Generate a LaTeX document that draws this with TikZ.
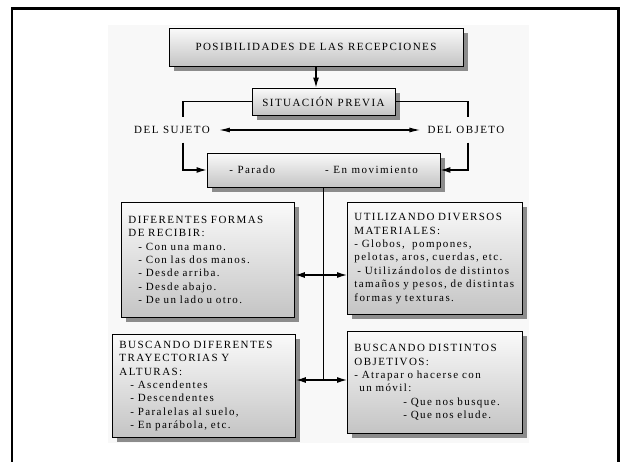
\documentclass[tikz,border=0pt]{standalone}
\usepackage{fontspec}
\setmainfont{Liberation Serif}[LetterSpace=13,WordSpace=1.6]
\usetikzlibrary{positioning,arrows.meta,shadows}
\definecolor{PanelGray}{RGB}{248,248,248}
\definecolor{ShadowGray}{RGB}{140,140,140}
\definecolor{BoxTop}{RGB}{250,250,250}
\definecolor{BoxBottom}{RGB}{196,196,196}
\newcommand{\cajafont}{\fontsize{11}{13.4}\selectfont\spaceskip=4.6pt plus 1pt\relax}

\begin{document}
\begin{tikzpicture}[x=1pt,y=-1pt,
box/.style={rectangle,draw=black,line width=0.9pt,top color=BoxTop,bottom color=BoxBottom,
drop shadow={shadow xshift=5pt,shadow yshift=-5pt,fill=ShadowGray,opacity=1},
inner xsep=7pt,inner ysep=4pt,align=left,font=\cajafont},
titlebox/.style={box,align=center},
etiqueta/.style={fill=PanelGray,inner sep=3pt,minimum height=25pt,font=\cajafont},
conector/.style={line width=1.2pt},
arrow/.style={-{Latex[length=10pt,width=6pt]},line width=1.2pt},
doble/.style={{Latex[length=11pt,width=5pt]}-{Latex[length=11pt,width=5pt]},line width=1.2pt,shorten <=6pt,shorten >=4pt}
]
\useasboundingbox (0,0) rectangle (622,462);
\fill[PanelGray] (108,25) rectangle (529,443);
\draw[line width=2.5pt] (12,462) -- (12,8.5) -- (618.5,8.5) -- (618.5,462);

\node[titlebox,minimum width=294pt,minimum height=38pt] (titulo) at (316,47) {POSIBILIDADES DE LAS RECEPCIONES};
\node[titlebox,minimum width=143pt,minimum height=27pt] (previa) at (323.5,101.5) {SITUACIÓN PREVIA};
\node[etiqueta] (sujeto) at (172,130) {DEL SUJETO};
\node[etiqueta] (objeto) at (466,130) {DEL OBJETO};
\node[titlebox,minimum width=233pt,minimum height=34pt] (estado) at (323.5,170) {- Parado\hspace{50pt}- En movimiento};
\node[box,text width=159pt,minimum height=115pt,anchor=north west] (formas) at (121,202)
{DIFERENTES FORMAS\\DE RECIBIR:\\
\hspace*{10pt}- Con una mano.\\
\hspace*{10pt}- Con las dos manos.\\
\hspace*{10pt}- Desde arriba.\\
\hspace*{10pt}- Desde abajo.\\
\hspace*{10pt}- De un lado u otro.};
\node[box,text width=161pt,minimum height=112pt,anchor=north west] (materiales) at (347,202)
{UTILIZANDO DIVERSOS\\MATERIALES:\\
- Globos,\ \ pompones,\\
pelotas, aros, cuerdas, etc.\\
\hspace*{3pt}- Utilizándolos de distintos\\
tamaños y pesos, de distintas\\
formas y texturas.};
\node[box,text width=169pt,minimum height=103pt,anchor=north west] (trayectorias) at (112,334)
{BUSCANDO DIFERENTES\\TRAYECTORIAS Y\\ALTURAS:\\
\hspace*{11pt}- Ascendentes\\
\hspace*{11pt}- Descendentes\\
\hspace*{11pt}- Paralelas al suelo,\\
\hspace*{11pt}- En parábola, etc.};
\node[box,text width=161pt,minimum height=102pt,anchor=north west] (objetivos) at (347,331)
{BUSCANDO DISTINTOS\\OBJETIVOS:\\
- Atrapar o hacerse con\\
\hspace*{5pt}un móvil:\\
\hspace*{49pt}- Que nos busque.\\
\hspace*{49pt}- Que nos elude.};

\coordinate (cruce1) at (323.5,275);
\coordinate (cruce2) at (323.5,380);
\draw[arrow] (titulo.south) -- (titulo.south |- previa.north);
\draw[conector] (previa.west) -| ([xshift=11pt]sujeto.north);
\draw[arrow] ([xshift=11pt]sujeto.south) |- (estado.west);
\draw[conector] (previa.east) -| ([xshift=2pt]objeto.north);
\draw[arrow] ([xshift=2pt]objeto.south) |- (estado.east);
\draw[doble] (sujeto) -- (objeto);
\draw[conector] (estado.south) -- (cruce2);
\draw[arrow] (cruce1) -- (cruce1 -| formas.east);
\draw[arrow] (cruce1) -- (cruce1 -| materiales.west);
\draw[arrow] (cruce2) -- (cruce2 -| trayectorias.east);
\draw[arrow] (cruce2) -- (cruce2 -| objetivos.west);
\end{tikzpicture}
\end{document}
